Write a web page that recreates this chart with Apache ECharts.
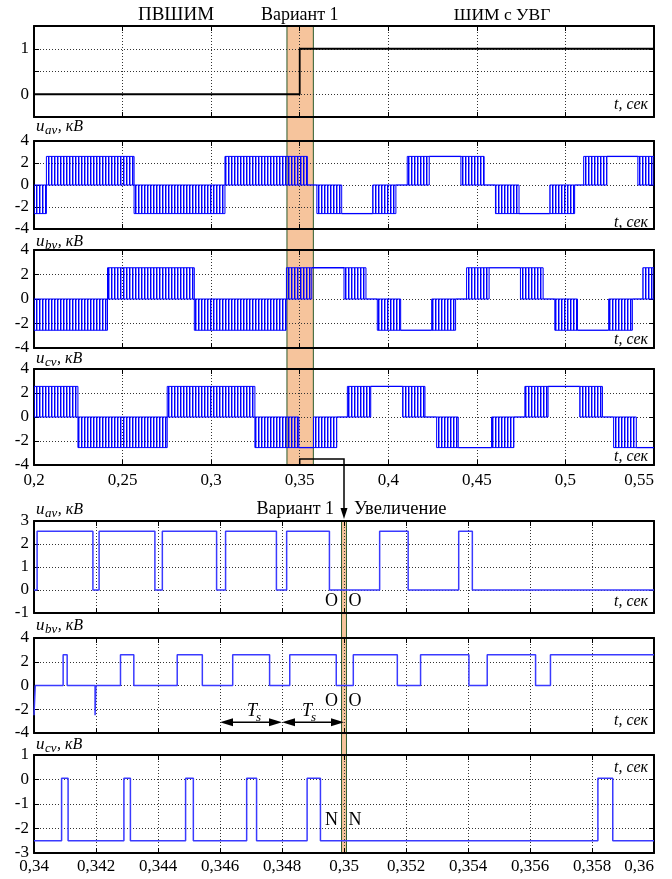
<!DOCTYPE html>
<html>
<head>
<meta charset="utf-8">
<script src="https://cdn.jsdelivr.net/npm/echarts@6.0.0/dist/echarts.min.js"></script>
<style>
html,body{margin:0;padding:0;background:#fff;}
#chart{width:672px;height:879px;}
</style>
</head>
<body>
<div id="chart"></div>
<script>
// ================= DATA =================
// operating mode: 0 = ПВШИМ, 1 = ШИМ с УВГ
const modeTimes  = [0.2, 0.35, 0.55];
const modeValues = [0, 1, 1];

// overview panels (0.2 … 0.55 s): switching bands [t start, t end, pulse level kV]
// (the voltage pulses between 0 and the level) and flat stretches [t start, t end, level kV]
const uavPwm = [[0.2,0.207,-2.6],[0.207,0.2565,2.6],[0.2565,0.3078,-2.6],[0.3078,0.3543,2.6],
  [0.3597,0.3737,-2.6],[0.3912,0.4043,-2.6],[0.4107,0.4231,2.6],[0.441,0.4541,2.6],
  [0.4605,0.4738,-2.6],[0.4912,0.5052,-2.6],[0.5103,0.5234,2.6],[0.5409,0.55,2.6]];
const uavFlat = [[0.3543,0.3597,0],[0.3737,0.3912,-2.6],[0.4043,0.4107,0],[0.4231,0.441,2.6],
  [0.4541,0.4605,0],[0.4738,0.4912,-2.6],[0.5052,0.5103,0],[0.5234,0.5409,2.6]];

const ubvPwm = [[0.2,0.2415,-2.55],[0.2415,0.2905,2.55],[0.2905,0.3423,-2.55],[0.3425,0.3568,2.55],
  [0.375,0.3874,2.55],[0.3938,0.407,-2.55],[0.4245,0.438,-2.55],[0.4442,0.4569,2.55],
  [0.4746,0.4874,2.55],[0.494,0.5068,-2.55],[0.5244,0.5378,-2.55],[0.5437,0.55,2.55]];
const ubvFlat = [[0.3568,0.375,2.55],[0.3874,0.3938,0],[0.407,0.4245,-2.55],[0.438,0.4442,0],
  [0.4569,0.4746,2.55],[0.4874,0.494,0],[0.5068,0.5244,-2.55],[0.5378,0.5437,0]];

const ucvPwm = [[0.2,0.2248,2.55],[0.2248,0.2752,-2.55],[0.2752,0.3247,2.55],[0.3247,0.3495,-2.55],
  [0.3578,0.3709,-2.55],[0.3769,0.3901,2.55],[0.4081,0.4207,2.55],[0.4273,0.4395,-2.55],
  [0.4583,0.4709,-2.55],[0.4771,0.4902,2.55],[0.5081,0.5209,2.55],[0.5272,0.54,-2.55]];
const ucvFlat = [[0.3495,0.3578,-2.55],[0.3709,0.3769,0],[0.3901,0.4081,2.55],[0.4207,0.4273,0],
  [0.4395,0.4583,-2.55],[0.4709,0.4771,0],[0.4902,0.5081,2.55],[0.5209,0.5272,0],[0.54,0.55,-2.55]];

// highlighted intervals
const variantBand = [0.3428, 0.3577];
const zoomBand    = [0.34992, 0.35008];
// switching period marks (T_s arrows)
const tsMarks = [0.346, 0.348, 0.35];

// zoomed panels (0.34 … 0.36 s): switching instants and level held from each instant
const zAvT = [0.34,0.3401,0.3419,0.3421,0.3439,0.34414,0.34589,0.34618,0.34782,0.34815,0.34953,0.35115,0.35207,0.3537,0.35414,0.36];
const zAvV = [0,2.55,0,2.55,0,2.55,0,2.55,0,2.55,0,2.55,0,2.55,0,0];
const zBvT = [0.34,0.34004,0.34094,0.34107,0.34197,0.342,0.34279,0.34322,0.34462,0.34543,0.34641,0.3476,0.34825,0.34975,0.3503,0.35172,0.35247,0.35403,0.35462,0.35618,0.35666,0.36];
const zBvV = [-2.5,0,2.6,0,-2.5,0,2.6,0,2.6,0,2.6,0,2.6,0,2.6,0,2.6,0,2.6,0,2.6,2.6];
const zCvT = [0.34,0.34089,0.3411,0.3429,0.34311,0.34489,0.34514,0.34686,0.34718,0.34881,0.34924,0.35819,0.35867,0.36];
const zCvV = [-2.5,0.05,-2.5,0.05,-2.5,0.05,-2.5,0.05,-2.5,0.05,-2.5,0.05,-2.5,-2.5];

// tick label sets
const upperTicks = [0.2,0.25,0.3,0.35,0.4,0.45,0.5,0.55];
const lowerTicks = [0.34,0.342,0.344,0.346,0.348,0.35,0.352,0.354,0.356,0.358,0.36];
const modeTickLabels = [0, 1];

// ================= LAYOUT / STYLE =================
const FF = '"Liberation Serif", "DejaVu Serif", serif';
const BLUE = '#0000ff', ZBLUE = '#3a3aff', ORANGE = '#f6c49c', GREEN = '#2c5a2c';
const gridPos = [[26,91],[141,88],[250,98],[369,96],[521,92],[638,95],[755,98]];
const yConf = [
  {min:-0.5,max:1.5,interval:0.5},
  {min:-4,max:4,interval:2},{min:-4,max:4,interval:2},{min:-4,max:4,interval:2},
  {min:-1,max:3,interval:1},{min:-4,max:4,interval:2},{min:-3,max:1,interval:1}
];

// stripe pattern for densely switched intervals
const pc = document.createElement('canvas'); pc.width = 3; pc.height = 4;
const pctx = pc.getContext('2d');
pctx.fillStyle = 'rgba(0,0,255,1)'; pctx.fillRect(0,0,1,4);
pctx.fillStyle = 'rgba(0,0,255,0.45)'; pctx.fillRect(1,0,1,4);
const stripe = {image: pc, repeat: 'repeat'};

const mctx = document.createElement('canvas').getContext('2d');
function tw(t, font){ mctx.font = font; return mctx.measureText(t).width; }

function commaFmt(v){ return String(Math.round(v*10000)/10000).replace('.', ','); }

const chart = echarts.init(document.getElementById('chart'), null, {renderer:'canvas'});

const grid = gridPos.map(([t,h]) => ({left:34, width:620, top:t, height:h}));
const xAxis = [], yAxis = [];
for (let i = 0; i < 7; i++) {
  const ticks = i < 4 ? upperTicks : lowerTicks;
  const xint = Math.round((ticks[1]-ticks[0])*1e6)/1e6;
  xAxis.push({
    type:'value', gridIndex:i, min:ticks[0], max:ticks[ticks.length-1], interval:xint, position:'bottom',
    axisLine:{show:true, onZero:false, lineStyle:{color:'#000', width:2}},
    axisTick:{show:true, inside:true, length:5, lineStyle:{color:'#000', width:1}},
    axisLabel:{show:(i===3||i===6), margin:(i<4?7:5), color:'#000', fontFamily:FF, fontSize:17,
      formatter:commaFmt, showMinLabel:true, showMaxLabel:true, alignMaxLabel:'right'},
    splitLine:{show:true, lineStyle:{color:'#333', width:1, type:[1,2]}}
  });
  const yc = yConf[i];
  yAxis.push({
    type:'value', gridIndex:i, min:yc.min, max:yc.max, interval:yc.interval, position:'left',
    axisLine:{show:true, onZero:false, lineStyle:{color:'#000', width:2}},
    axisTick:{show:true, inside:true, length:5, lineStyle:{color:'#000', width:1}},
    axisLabel:{show:true, margin:5, color:'#000', fontFamily:FF, fontSize:17,
      formatter: i===0 ? (v => modeTickLabels.some(m => Math.abs(m-v)<1e-9) ? String(Math.round(v)) : '')
                       : (v => String(Math.round(v*1000)/1000))},
    splitLine:{show:true, lineStyle:{color:'#333', width:1, type:[1,2]}}
  });
}
for (let i = 0; i < 7; i++) {
  const b = xAxis[i];
  xAxis.push({type:'value', gridIndex:i, min:b.min, max:b.max, interval:b.interval, position:'top',
    axisLine:{show:true, onZero:false, lineStyle:{color:'#000', width:2}},
    axisTick:{show:true, inside:true, length:5, lineStyle:{color:'#000', width:1}},
    axisLabel:{show:false}, splitLine:{show:false}});
  const c = yAxis[i];
  yAxis.push({type:'value', gridIndex:i, min:c.min, max:c.max, interval:c.interval, position:'right',
    axisLine:{show:true, onZero:false, lineStyle:{color:'#000', width:2}},
    axisTick:{show:true, inside:true, length:5, lineStyle:{color:'#000', width:1}},
    axisLabel:{show:false}, splitLine:{show:false}});
}

function renderPwm(params, api){
  const a = api.coord([api.value(0), api.value(2)]);
  const b = api.coord([api.value(1), 0]);
  return {type:'rect',
    shape:{x:a[0], y:Math.min(a[1],b[1]), width:b[0]-a[0], height:Math.abs(b[1]-a[1])},
    style:{fill:stripe, stroke:BLUE, lineWidth:1}};
}
function renderFlat(params, api){
  const a = api.coord([api.value(0), api.value(2)]);
  const b = api.coord([api.value(1), api.value(2)]);
  return {type:'line', shape:{x1:a[0], y1:a[1], x2:b[0], y2:b[1]},
    style:{stroke:BLUE, lineWidth:1.3, fill:null}};
}

const series = [];
series.push({type:'line', xAxisIndex:0, yAxisIndex:0, step:'end', symbol:'none',
  data: modeTimes.map((t,k) => [t, modeValues[k]]), lineStyle:{color:'#000', width:1.8}});
[[uavPwm,uavFlat],[ubvPwm,ubvFlat],[ucvPwm,ucvFlat]].forEach(([pwm, flat], k) => {
  series.push({type:'custom', xAxisIndex:k+1, yAxisIndex:k+1, data:pwm, renderItem:renderPwm, clip:true});
  series.push({type:'custom', xAxisIndex:k+1, yAxisIndex:k+1, data:flat, renderItem:renderFlat, clip:true});
});
[[zAvT,zAvV],[zBvT,zBvV],[zCvT,zCvV]].forEach(([T,V], k) => {
  series.push({type:'line', xAxisIndex:k+4, yAxisIndex:k+4, step:'end', symbol:'none',
    data: T.map((t,j) => [t, V[j]]), lineStyle:{color:ZBLUE, width:1.5}});
});

chart.setOption({animation:false, backgroundColor:'#fff', grid, xAxis, yAxis, series});

// ================= annotations positioned through the axes =================
const X = (i,v) => chart.convertToPixel({xAxisIndex:i}, v);
const Y = (i,v) => chart.convertToPixel({yAxisIndex:i}, v);
const g = [];

function band(xi, range, yTop, yBot){
  const x0 = X(xi, range[0]), x1 = X(xi, range[1]);
  g.push({type:'rect', z:-1, silent:true, shape:{x:x0, y:yTop, width:x1-x0, height:yBot-yTop}, style:{fill:ORANGE}});
  g.push({type:'line', z:-1, silent:true, shape:{x1:x0, y1:yTop, x2:x0, y2:yBot}, style:{stroke:GREEN, lineWidth:1}});
  g.push({type:'line', z:-1, silent:true, shape:{x1:x1, y1:yTop, x2:x1, y2:yBot}, style:{stroke:GREEN, lineWidth:1}});
}
band(0, variantBand, Y(0, yConf[0].max), Y(3, yConf[3].min));
band(4, zoomBand, Y(4, yConf[4].max), Y(6, yConf[6].min));

// connecting arrow from the switching instant to the zoomed panels
const sw = modeTimes[1];
const ax0 = X(3, sw), ax1 = X(4, sw), ayh = Y(3, -3.5), tipY = Y(4, yConf[4].max) - 2;
g.push({type:'polyline', z:20, silent:true,
  shape:{points:[[ax0, Y(3, yConf[3].min)], [ax0, ayh], [ax1, ayh], [ax1, tipY-8]]},
  style:{stroke:'#000', lineWidth:1.5, fill:null}});
g.push({type:'polygon', z:20, silent:true,
  shape:{points:[[ax1-3.5, tipY-11], [ax1+3.5, tipY-11], [ax1, tipY]]}, style:{fill:'#000'}});

// T_s double arrows
const tsY = Y(5, -3.1);
for (let k = 0; k < tsMarks.length-1; k++) {
  const xa = X(5, tsMarks[k]), xb = X(5, tsMarks[k+1]);
  g.push({type:'line', z:20, silent:true, shape:{x1:xa+6, y1:tsY, x2:xb-6, y2:tsY}, style:{stroke:'#000', lineWidth:1.5}});
  g.push({type:'polygon', z:20, silent:true, shape:{points:[[xa, tsY],[xa+13, tsY-4],[xa+13, tsY+4]]}, style:{fill:'#000'}});
  g.push({type:'polygon', z:20, silent:true, shape:{points:[[xb, tsY],[xb-13, tsY-4],[xb-13, tsY+4]]}, style:{fill:'#000'}});
}

function txt(x, baseline, text, size, italic, align){
  const font = (italic ? 'italic ' : '') + size + 'px ' + FF;
  return {type:'text', z:30, silent:true, x:x, y:baseline - 0.3*size,
    style:{text:text, font:font, fill:'#000', align:align||'left', textAlign:align||'left',
           verticalAlign:'middle', textVerticalAlign:'middle'}};
}
function uName(sub, baseline){
  const x = 36;
  const w1 = tw('u', 'italic 17px ' + FF), w2 = tw(sub, 'italic 13px ' + FF);
  g.push(txt(x, baseline, 'u', 17, true));
  g.push(txt(x + w1 + 0.5, baseline + 2.5, sub, 13, true));
  g.push(txt(x + w1 + w2 + 1, baseline, ', кВ', 16, true));
}
// titles
g.push(txt(176, 21, 'ПВШИМ', 19, false, 'center'));
g.push(txt(X(0, sw), 21, 'Вариант 1', 18, false, 'center'));
g.push(txt(502, 21, 'ШИМ с УВГ', 17.5, false, 'center'));
g.push(txt(334, 515, 'Вариант 1', 18, false, 'right'));
g.push(txt(354, 515, 'Увеличение', 18.5, false, 'left'));
// axis names
uName('av', 132); uName('bv', 247); uName('cv', 364);
uName('av', 515); uName('bv', 631); uName('cv', 750);
// time axis names
[110, 228, 345, 462, 607, 726, 773].forEach(b => g.push(txt(648, b, 't, сек', 16, true, 'right')));
// O / N marks
[[607,'O'],[707,'O'],[826,'N']].forEach(([b, s]) => {
  g.push(txt(331.5, b, s, 18, false, 'center'));
  g.push(txt(355, b, s, 18, false, 'center'));
});
// T_s labels
[247, 302].forEach(x => {
  const wT = tw('T', 'italic 18px ' + FF);
  g.push(txt(x, 717, 'T', 18, true));
  g.push(txt(x + wT - 1, 721, 's', 13, true));
});

chart.setOption({graphic:{elements:g}});
</script>
</body>
</html>
